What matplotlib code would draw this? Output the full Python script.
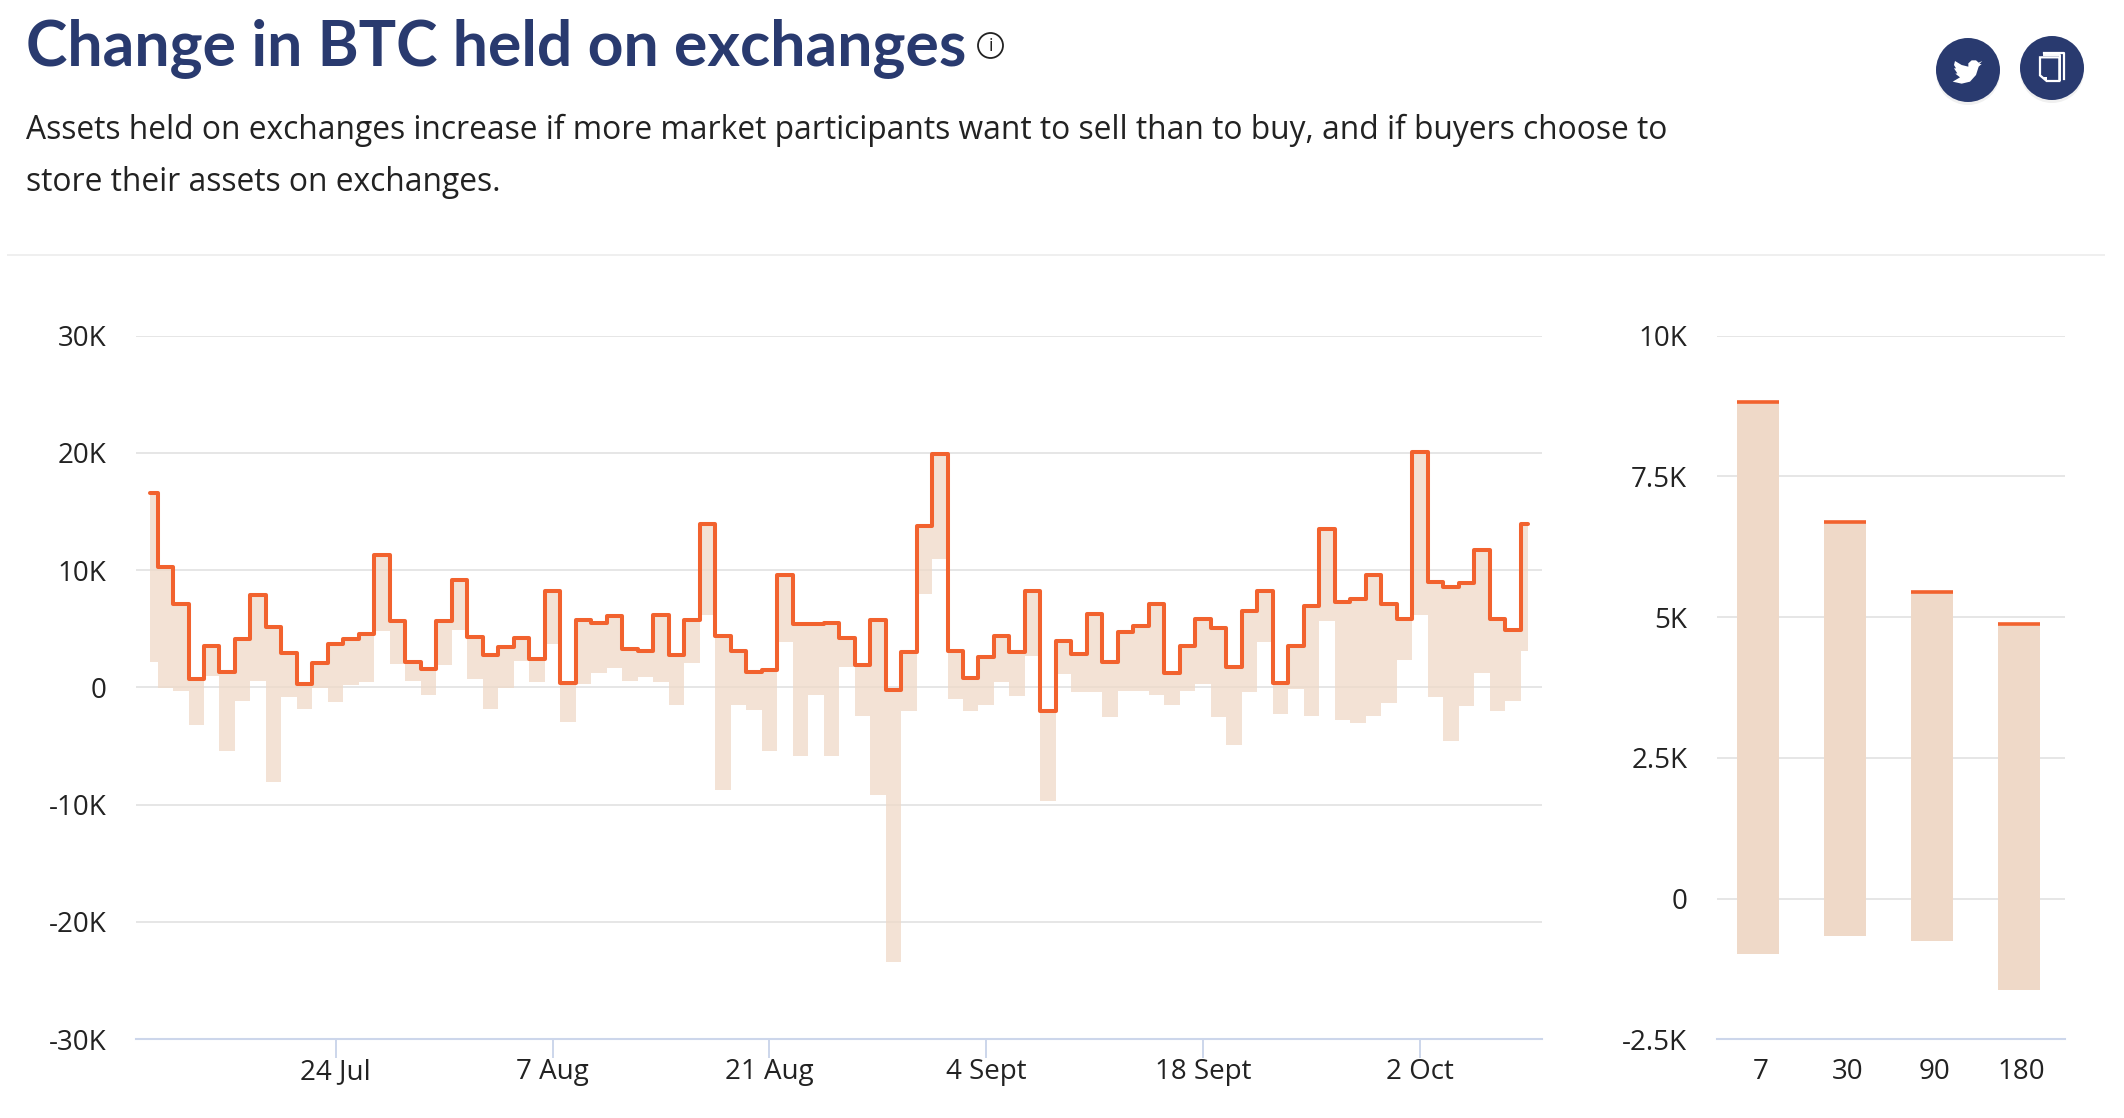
import numpy as np
import pandas as pd
import matplotlib
matplotlib.use("Agg")
import matplotlib.pyplot as plt
from matplotlib.patches import Circle, Polygon
import matplotlib.dates as mdates

plt.rcParams['font.family'] = ['Open Sans', 'DejaVu Sans']

# ---------- data ----------
start_date = "2021-07-12"
change_top = [16.6,10.3,7.1,0.73,3.57,1.34,4.09,7.87,5.12,2.93,0.27,2.1,3.72,4.15,4.54,11.28,5.67,2.16,1.55,5.67,
              9.12,4.3,2.8,3.41,4.24,2.38,8.23,0.34,5.76,5.52,6.07,3.29,3.11,6.19,2.77,5.73,13.96,4.36,3.08,1.34,
              1.46,9.57,5.4,5.43,5.49,4.24,1.95,5.76,-0.21,3.02,13.75,19.9,3.14,0.82,2.62,4.42,3.05,8.23,-2.01,3.99,
              2.84,6.22,2.16,4.76,5.27,7.07,1.22,3.57,5.79,5.06,1.77,6.55,8.2,0.37,3.51,6.9,13.5,7.32,7.5,9.6,
              7.07,5.87,20.1,9.0,8.6,8.86,11.7,5.87,4.87,13.96]
change_low = [2.16,-0.03,-0.34,-3.17,0.95,-5.4,-1.16,0.55,-8.1,-0.79,-1.86,-0.03,-1.25,0.24,0.49,4.82,2.01,0.58,-0.64,1.95,
              4.91,0.73,-1.8,-0.06,2.26,0.43,3.66,-2.93,0.3,1.25,1.68,0.58,0.91,0.49,-1.52,2.07,6.13,-8.72,-1.49,-1.89,
              -5.46,3.9,-5.82,-0.64,-5.82,1.71,-2.41,-9.18,-23.4,-2.01,7.99,10.98,-1.01,-2.01,-1.49,0.49,-0.7,2.65,-9.66,1.13,
              -0.4,-0.37,-2.5,-0.27,-0.3,-0.61,-1.49,-0.3,0.3,-2.5,-4.88,-0.43,3.87,-2.26,-0.12,-2.44,5.7,-2.76,-3.0,-2.4,
              -1.34,2.36,6.15,-0.83,-4.6,-1.62,1.2,-2.05,-1.17,3.08]
x_tick_dates = ["2021-07-24","2021-08-07","2021-08-21","2021-09-04","2021-09-18","2021-10-02"]
x_tick_labels = ["24 Jul","7 Aug","21 Aug","4 Sept","18 Sept","2 Oct"]
y_ticks_left = [-30,-20,-10,0,10,20,30]
y_labels_left = ["-30K","-20K","-10K","0","10K","20K","30K"]

windows = ["7","30","90","180"]
window_top = [8.82,6.68,5.44,4.88]
window_low = [-0.98,-0.67,-0.76,-1.62]
y_ticks_right = [-2.5,0,2.5,5,7.5,10]
y_labels_right = ["-2.5K","0","2.5K","5K","7.5K","10K"]

# ---------- style ----------
W, H = 2124, 1118
NAVY = "#293A6F"
ORANGE = "#F2622E"
SHADE = "#EFD9C8"
GRID = "#E6E6E6"
AXIS = "#CCD6EB"
TEXT = "#222222"
LABEL = 20

fig = plt.figure(figsize=(W/100, H/100), dpi=100, facecolor="white")

def axes_px(x0, x1, ytop, ybot):
    return fig.add_axes([x0/W, 1-ybot/H, (x1-x0)/W, (ybot-ytop)/H])

def style(ax, ticks, labels, pad):
    ax.set_yticks(ticks)
    ax.set_yticklabels(labels)
    ax.tick_params(axis='y', length=0, pad=pad, labelsize=LABEL, labelcolor=TEXT)
    ax.grid(axis='y', color=GRID, lw=1.4, zorder=0)
    ax.set_axisbelow(True)
    for s in ['top','right','left']:
        ax.spines[s].set_visible(False)
    ax.spines['bottom'].set_color(AXIS)
    ax.spines['bottom'].set_linewidth(1.5)
    for l in ax.get_ygridlines()[:1]:
        l.set_visible(False)

# ---------- left chart ----------
ax = axes_px(135.5, 1542, 335.5, 1039.3)
dates = pd.date_range(start_date, periods=len(change_top))
xn = mdates.date2num(dates)
ax.fill_between(xn, change_low, change_top, step='mid', facecolor=SHADE, alpha=0.75, lw=0, zorder=2)
ax.step(xn, change_top, where='mid', color=ORANGE, lw=2.9, solid_joinstyle='round',
        solid_capstyle='round', zorder=3)
ax.set_xlim(xn[0]-0.923, xn[0]+89.88)
ax.set_ylim(-30, 30)
style(ax, y_ticks_left, y_labels_left, 21)
ax.set_xticks(mdates.date2num(pd.to_datetime(x_tick_dates)))
ax.set_xticklabels(x_tick_labels)
ax.tick_params(axis='x', length=13.7, width=1.4, color=AXIS, pad=0, labelsize=LABEL, labelcolor=TEXT)

# ---------- right chart ----------
ax2 = axes_px(1717, 2065, 335.5, 1039.3)
xc = np.arange(len(windows))
low = np.array(window_low); top = np.array(window_top)
ax2.bar(xc-0.025, top-low, bottom=low, width=0.485, color=SHADE, lw=0, zorder=2)
ax2.hlines(top, xc-0.025-0.2425, xc-0.025+0.2425, color=ORANGE, lw=2.6, zorder=3)
ax2.set_xlim(-0.5, 3.5)
ax2.set_ylim(-2.5, 10)
style(ax2, y_ticks_right, y_labels_right, 21.5)
ax2.set_xticks(xc)
ax2.set_xticklabels(windows)
ax2.tick_params(axis='x', length=0, pad=13.5, labelsize=LABEL, labelcolor=TEXT)

# ---------- overlay: header, separator, icons ----------
ov = fig.add_axes([0, 0, 1, 1], facecolor='none')
ov.set_xlim(0, W); ov.set_ylim(H, 0); ov.axis('off')
ov.text(26, 65, "Change in BTC held on exchanges", fontsize=45, fontweight='bold', color=NAVY,
        va='baseline', family='Lato')
ov.text(26, 139, "Assets held on exchanges increase if more market participants want to sell than to buy, and if buyers choose to",
        fontsize=22.9, color=TEXT, va='baseline')
ov.text(26, 191, "store their assets on exchanges.", fontsize=22.9, color=TEXT, va='baseline')
ov.plot([8, 2104], [255, 255], color="#EFEFEF", lw=1.4)

# info icon
ov.add_patch(Circle((990.5, 45.5), 12.5, fc='white', ec=TEXT, lw=1.3))
ov.text(990.5, 46, "i", fontsize=13, color=TEXT, ha='center', va='center')

# share buttons
def scaled(pts):
    return [(1900+px/3, py/3) for px, py in pts]
for cx, cy in [(1968, 70), (2052, 68)]:
    ov.add_patch(Circle((cx, cy+3), 32, fc="#F0F0F0", ec='none'))
    ov.add_patch(Circle((cx, cy), 32, fc=NAVY, ec='none'))
bird = [(247,183),(236,188),(228,181),(215,181),(205,190),(205,200),(185,195),(165,183),(162,195),(168,205),
        (162,205),(172,220),(166,221),(180,232),(158,245),(185,251),(210,245),(228,225),(236,200),(245,192),(238,192)]
ov.add_patch(Polygon(scaled(bird), closed=True, fc='white', ec='none'))
ov.plot(*zip(*scaled([(432,160),(492,160),(492,238)])), color='white', lw=1.6)
ov.plot(*zip(*scaled([(432,165),(480,165),(480,240)])), color='white', lw=1.4)
ov.add_patch(Polygon(scaled([(420,172),(478,172),(478,243),(440,243),(420,226)]), closed=True, fc=NAVY, ec='white', lw=1.6))
ov.add_patch(Polygon(scaled([(430,232),(442,232),(442,243)]), closed=True, fc='white', ec='none'))

fig.savefig("out.png", dpi=100, facecolor="white")
